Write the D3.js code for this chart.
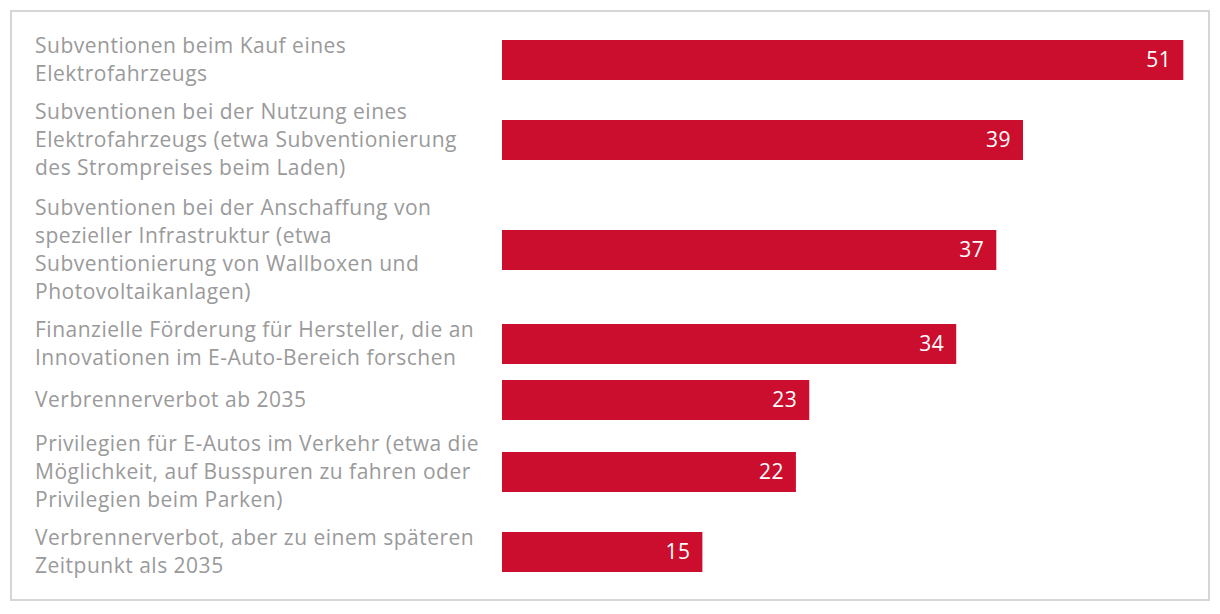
<!DOCTYPE html>
<html>
<head>
<meta charset="utf-8">
<script src="https://cdn.jsdelivr.net/npm/d3@7"></script>
<style>
  html, body { margin: 0; padding: 0; background: #fff; }
  svg { display: block; }
  text { font-family: "Open Sans", "Noto Sans", sans-serif; }
</style>
</head>
<body>
<svg id="chart" width="1220" height="614"></svg>
<script>
const categories = [
  ["Subventionen beim Kauf eines", "Elektrofahrzeugs"],
  ["Subventionen bei der Nutzung eines", "Elektrofahrzeugs (etwa Subventionierung", "des Strompreises beim Laden)"],
  ["Subventionen bei der Anschaffung von", "spezieller Infrastruktur (etwa", "Subventionierung von Wallboxen und", "Photovoltaikanlagen)"],
  ["Finanzielle Förderung für Hersteller, die an", "Innovationen im E-Auto-Bereich forschen"],
  ["Verbrennerverbot ab 2035"],
  ["Privilegien für E-Autos im Verkehr (etwa die", "Möglichkeit, auf Busspuren zu fahren oder", "Privilegien beim Parken)"],
  ["Verbrennerverbot, aber zu einem späteren", "Zeitpunkt als 2035"]
];
const values = [51, 39, 37, 34, 23, 22, 15];

const svg = d3.select("#chart");
const lineH = 28, barH = 40, top0 = 32;
const gaps = [0, 10, 12, 10, 8, 10, 10];
const labelX = 35, barX0 = 502, barMaxW = 684;

// frame
svg.append("rect")
  .attr("x", 11).attr("y", 11).attr("width", 1198).attr("height", 589)
  .attr("fill", "none").attr("stroke", "#d6d6d6").attr("stroke-width", 2);

// layout blocks based on number of label lines
let cursor = top0;
const blocks = categories.map((lines, i) => {
  cursor += gaps[i];
  const h = Math.max(lines.length * lineH, barH);
  const b = { lines, value: values[i], top: cursor, h, center: cursor + h / 2 };
  cursor += h;
  return b;
});

const y = d3.scaleOrdinal()
  .domain(d3.range(categories.length))
  .range(blocks.map(b => b.center));

const x = d3.scaleLinear().domain([0, 51.2]).range([barX0, barX0 + barMaxW]);

const g = svg.append("g");

// labels
const lbl = g.selectAll("text.lbl").data(blocks).join("text")
  .attr("class", "lbl")
  .attr("x", labelX)
  .attr("fill", "#9a9a9a")
  .attr("font-size", 21)
  .attr("letter-spacing", "0.5px");
lbl.each(function(d, i) {
  const n = d.lines.length;
  const startY = y(i) - (n - 1) * lineH / 2;
  d3.select(this).selectAll("tspan").data(d.lines).join("tspan")
    .attr("x", labelX)
    .attr("y", (t, j) => startY + j * lineH)
    .attr("dy", "0.35em")
    .text(t => t);
});

// bars
g.selectAll("rect.bar").data(blocks).join("rect")
  .attr("class", "bar")
  .attr("x", x(0))
  .attr("y", (d, i) => y(i) - barH / 2)
  .attr("width", d => x(d.value) - x(0))
  .attr("height", barH)
  .attr("fill", "#cc0e2e");

// value labels
g.selectAll("text.val").data(blocks).join("text")
  .attr("class", "val")
  .attr("x", d => x(d.value) - 12)
  .attr("y", (d, i) => y(i))
  .attr("dy", "0.35em")
  .attr("text-anchor", "end")
  .attr("fill", "#fff")
  .attr("font-size", 21)
  .attr("letter-spacing", "0.5px")
  .text(d => d.value);
</script>
</body>
</html>
